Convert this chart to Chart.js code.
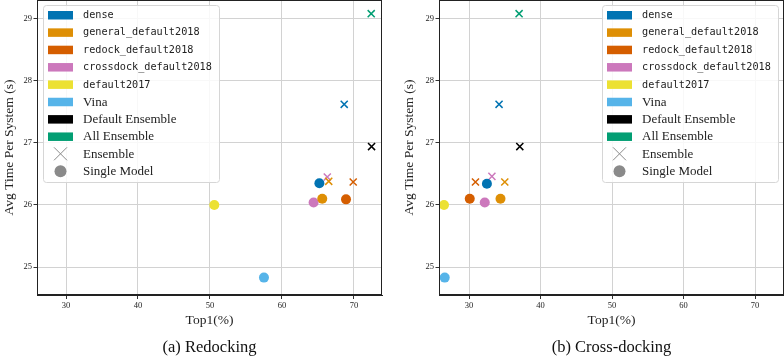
<!DOCTYPE html>
<html>
<head>
<meta charset="utf-8">
<script src="https://cdn.jsdelivr.net/npm/chart.js@4"></script>
<style>
    body { margin: 0; background: #fff; }
    .panel { position: absolute; top: 0; height: 358px; }
    #left { left: 0; width: 392px; }
    #right { left: 400px; width: 384px; }
</style>
</head>
<body>
<div class="panel" id="left"><canvas id="redockChart"></canvas></div>
<div class="panel" id="right"><canvas id="crossChart"></canvas></div>
<script>
// legend entries (models) and their colours
const legendNames = ['dense', 'general_default2018', 'redock_default2018', 'crossdock_default2018', 'default2017', 'Vina', 'Default Ensemble', 'All Ensemble']
const palette = ['#0173b2', '#de8f05', '#d55e00', '#cc78bc', '#ece133', '#56b4e9', '#000000', '#029e73']

// single models (circles)
const singleModels = ['dense', 'general_default2018', 'redock_default2018', 'crossdock_default2018', 'default2017', 'Vina']
const redockSingleTop1 = [65.2, 65.6, 68.9, 64.4, 50.6, 57.5]
const redockSingleTime = [26.35, 26.10, 26.09, 26.04, 26.00, 24.83]
const crossSingleTop1 = [32.5, 34.4, 30.1, 32.2, 26.5, 26.6]
const crossSingleTime = [26.34, 26.10, 26.10, 26.04, 26.00, 24.83]

// ensembles (crosses)
const ensembleModels = ['dense', 'general_default2018', 'redock_default2018', 'crossdock_default2018', 'Default Ensemble', 'All Ensemble']
const redockEnsTop1 = [68.65, 66.5, 69.9, 66.3, 72.45, 72.4]
const redockEnsTime = [27.62, 26.38, 26.37, 26.45, 26.94, 29.08]
const crossEnsTop1 = [34.2, 35.0, 30.9, 33.2, 37.1, 37.0]
const crossEnsTime = [27.62, 26.37, 26.37, 26.46, 26.94, 29.08]

const xTicks = [30, 40, 50, 60, 70]
const yTicks = [25, 26, 27, 28, 29]

const serif = "'Liberation Serif', 'DejaVu Serif', serif"
const mono = "'DejaVu Sans Mono', 'Liberation Mono', monospace"
const colorOf = (name) => palette[legendNames.indexOf(name)]

const buildDatasets = (singleTop1, singleTime, ensTop1, ensTime) => {
    const sets = []
    singleModels.forEach((name, i) => {
        sets.push({
            label: name,
            data: [{ x: singleTop1[i], y: singleTime[i] }],
            pointStyle: 'circle',
            pointRadius: 5,
            backgroundColor: colorOf(name),
            borderColor: colorOf(name),
            borderWidth: 0,
        })
    })
    ensembleModels.forEach((name, i) => {
        sets.push({
            label: name + ' ensemble',
            data: [{ x: ensTop1[i], y: ensTime[i] }],
            pointStyle: 'crossRot',
            pointRadius: 5,
            borderColor: colorOf(name),
            borderWidth: 1.5,
        })
    })
    return sets
}

// legend drawn inside the plot area, like matplotlib's
const insideLegend = {
    id: 'insideLegend',
    afterDatasetsDraw(chart, args, opts) {
        const { ctx, chartArea } = chart
        const w = 176, h = 177, rowH = 17.35
        const x0 = opts.side === 'left' ? chartArea.left + 6 : chartArea.right - 6 - w
        const y0 = chartArea.top + 5
        ctx.save()
        ctx.beginPath()
        ctx.roundRect(x0 + 0.5, y0 + 0.5, w, h, 3)
        ctx.fillStyle = 'rgba(255,255,255,0.85)'
        ctx.fill()
        ctx.strokeStyle = '#d6d6d6'
        ctx.lineWidth = 1
        ctx.stroke()
        ctx.textBaseline = 'middle'
        ctx.textAlign = 'left'
        const items = legendNames.map((n, i) => ({ text: n, color: palette[i], kind: 'patch', font: i < 5 ? mono : serif }))
        items.push({ text: 'Ensemble', kind: 'cross', font: serif })
        items.push({ text: 'Single Model', kind: 'dot', font: serif })
        items.forEach((item, i) => {
            const cy = y0 + 10 + i * rowH
            const mx = x0 + 17.5
            if (item.kind === 'patch') {
                ctx.fillStyle = item.color
                ctx.fillRect(x0 + 5, cy - 4, 25, 8.5)
            } else if (item.kind === 'cross') {
                ctx.strokeStyle = '#8a8a8a'
                ctx.lineWidth = 1
                ctx.beginPath()
                ctx.moveTo(mx - 6.5, cy - 6.5); ctx.lineTo(mx + 6.5, cy + 6.5)
                ctx.moveTo(mx + 6.5, cy - 6.5); ctx.lineTo(mx - 6.5, cy + 6.5)
                ctx.stroke()
            } else {
                ctx.fillStyle = '#8a8a8a'
                ctx.beginPath()
                ctx.arc(mx, cy, 6, 0, Math.PI * 2)
                ctx.fill()
            }
            ctx.fillStyle = '#222'
            ctx.font = item.font === mono ? `10.2px ${mono}` : `13px ${serif}`
            ctx.fillText(item.text, x0 + 40, cy + 0.5)
        })
        ctx.restore()
    }
}

const frame = {
    id: 'frame',
    afterDraw(chart) {
        const { ctx, chartArea } = chart
        ctx.save()
        ctx.strokeStyle = '#222'
        ctx.lineWidth = 1
        ctx.strokeRect(chartArea.left + 0.5, chartArea.top + 0.5, chartArea.width - 1, chartArea.height - 1)
        ctx.restore()
    }
}

const makeChart = (canvasId, datasets, caption, side, xMin, xMax, yWidth, padRight) => {
    const ctx = document.getElementById(canvasId).getContext('2d')
    return new Chart(ctx, {
        type: 'scatter',
        data: { datasets },
        plugins: [insideLegend, frame],
        options: {
            responsive: true,
            maintainAspectRatio: false,
            animation: false,
            layout: { autoPadding: false, padding: { top: 0, right: padRight, left: 0, bottom: 0 } },
            scales: {
                x: {
                    type: 'linear',
                    min: xMin,
                    max: xMax,
                    afterBuildTicks: (s) => { s.ticks = xTicks.map(v => ({ value: v })) },
                    afterFit: (s) => { s.height = 40; s.paddingLeft = 0; s.paddingRight = 0 },
                    grid: { color: '#d2d2d2', tickColor: '#333', tickLength: 4 },
                    border: { color: '#222' },
                    ticks: { font: { family: serif, size: 8.5 }, color: '#222', padding: 2, maxRotation: 0 },
                    title: {
                        display: true,
                        text: 'Top1(%)',
                        color: '#222',
                        font: { family: serif, size: 13.5 },
                        padding: { top: 0, bottom: 6 }
                    }
                },
                y: {
                    type: 'linear',
                    min: 24.55,
                    max: 29.3,
                    afterBuildTicks: (s) => { s.ticks = yTicks.map(v => ({ value: v })) },
                    afterFit: (s) => { s.width = yWidth; s.paddingTop = 0; s.paddingBottom = 0 },
                    grid: { color: '#d2d2d2', tickColor: '#333', tickLength: 3.5 },
                    border: { color: '#222' },
                    ticks: { font: { family: serif, size: 8.5 }, color: '#222', padding: 1.5 },
                    title: {
                        display: true,
                        text: 'Avg Time Per System (s)',
                        color: '#222',
                        font: { family: serif, size: 13.5 },
                        padding: { top: 1, bottom: 0 }
                    }
                }
            },
            plugins: {
                legend: { display: false },
                tooltip: { enabled: false },
                insideLegend: { side },
                title: {
                    display: true,
                    position: 'bottom',
                    fullSize: false,
                    text: caption,
                    color: '#111',
                    font: { family: serif, size: 16.5, weight: 'normal' },
                    padding: { top: 3, bottom: 0.2 }
                }
            }
        }
    })
}

makeChart('redockChart', buildDatasets(redockSingleTop1, redockSingleTime, redockEnsTop1, redockEnsTime),
    '(a) Redocking', 'left', 25.97, 73.9, 37, 10)
makeChart('crossChart', buildDatasets(crossSingleTop1, crossSingleTime, crossEnsTop1, crossEnsTime),
    '(b) Cross-docking', 'right', 25.8, 74.05, 39, 0)
</script>
</body>
</html>
